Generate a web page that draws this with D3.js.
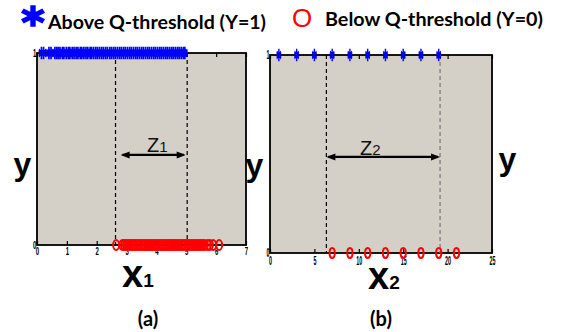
<!DOCTYPE html>
<html>
<head>
<meta charset="utf-8">
<script src="https://cdn.jsdelivr.net/npm/d3@7"></script>
<style>
  body { margin: 0; background: #fff; }
  svg { display: block; }
</style>
</head>
<body>
<div id="holder"></div>
<script>
const w = 561;
const h = 332;

// DATA
// panel (a): x1 values
const blueA = [0.15, 0.22, 0.4, 0.47, 0.6, 0.66, 0.71, 0.77, 0.85, 0.9, 0.98, 1.05, 1.1, 1.18, 1.24, 1.31,
  1.37, 1.45, 1.5, 1.57, 1.64, 1.7, 1.78, 1.83, 1.9, 1.97, 2.03, 2.1, 2.17, 2.23, 2.3, 2.36, 2.44, 2.5,
  2.57, 2.63, 2.7, 2.77, 2.83, 2.9, 2.96, 3.03, 3.1, 3.16, 3.23, 3.3, 3.36, 3.43, 3.5, 3.56, 3.63, 3.7,
  3.76, 3.83, 3.9, 3.96, 4.03, 4.1, 4.16, 4.23, 4.3, 4.36, 4.43, 4.5, 4.56, 4.63, 4.7, 4.76, 4.83, 4.9, 4.95];
const redA = [2.65, 2.86, 2.92, 2.98, 3.05, 3.11, 3.18, 3.24, 3.3, 3.37, 3.43, 3.5, 3.56, 3.62, 3.69,
  3.75, 3.82, 3.88, 3.95, 4.01, 4.07, 4.14, 4.2, 4.27, 4.33, 4.4, 4.46, 4.52, 4.59, 4.65, 4.72, 4.78,
  4.85, 4.91, 4.97, 5.04, 5.1, 5.17, 5.23, 5.3, 5.36, 5.42, 5.49, 5.55, 5.62, 5.72, 5.79, 5.9, 6.1];
const zA = [2.63, 5.03];          // dashed boundaries
const arrowA = [2.8, 4.98];
const ticksA = [0, 1, 2, 3, 4, 5, 6, 7];

// panel (b): x2 values
const blueB = [1, 3, 5, 7, 9, 11, 13, 15, 17, 19];
const redB = [7, 9, 11, 13, 15, 17, 19, 21];
const zB = [6.35, 19.15];
const arrowB = [6.35, 19.15];
const ticksB = [0, 5, 10, 15, 20, 25];

const yTicks = [0, 1];

const bg = "#d4d0c8";
const blue = "#0000ff";
const red = "#ff0000";

// CREATE SVG
const svg = d3.select("#holder")
  .append("svg")
  .attr("width", w)
  .attr("height", h);

const star = d3.symbol().type(d3.symbolAsterisk).size(75);

function panel(opt) {
  const x = d3.scaleLinear().domain(opt.xDomain).range(opt.xRange);
  const y = d3.scaleLinear().domain([0, 1]).range(opt.yRange);
  const g = svg.append("g");

  // background + frame
  g.append("rect")
    .attr("x", x.range()[0]).attr("y", y.range()[1])
    .attr("width", x.range()[1] - x.range()[0])
    .attr("height", y.range()[0] - y.range()[1])
    .attr("fill", bg)
    .attr("stroke", "#000")
    .attr("stroke-width", 1.8);

  // dashed lines
  g.selectAll(".zline")
    .data(opt.z)
    .enter()
    .append("line")
    .attr("x1", d => x(d)).attr("x2", d => x(d))
    .attr("y1", y(1)).attr("y2", y(0))
    .attr("stroke", (d, i) => opt.zColors[i])
    .attr("stroke-width", 1.2)
    .attr("stroke-dasharray", "4,3");

  // bottom axis
  const bottom = g.append("g")
    .attr("transform", `translate(0,${y(0)})`)
    .call(d3.axisBottom(x).tickValues(opt.ticks).tickSizeInner(-4).tickSizeOuter(0)
      .tickPadding(opt.labelPad).tickFormat(d3.format("d")));
  bottom.select(".domain").remove();
  bottom.selectAll("line").attr("stroke-width", 1.2);
  bottom.selectAll("text")
    .style("font-family", "Liberation Sans, Arial, sans-serif")
    .style("font-size", opt.labelSize + "px")
    .style("font-weight", "bold")
    .attr("transform", `scale(${opt.labelScale},1)`);

  // top axis (ticks only)
  const top = g.append("g")
    .attr("transform", `translate(0,${y(1)})`)
    .call(d3.axisTop(x).tickValues(opt.ticks).tickSizeInner(-4).tickSizeOuter(0).tickFormat(""));
  top.select(".domain").remove();
  top.selectAll("line").attr("stroke-width", 1.2);

  // left labels 0 / 1
  const left = g.append("g")
    .attr("transform", `translate(${x.range()[0]},0)`)
    .call(d3.axisLeft(y).tickValues(yTicks).tickSize(0).tickPadding(1).tickFormat(d3.format("d")));
  left.select(".domain").remove();
  left.selectAll("text")
    .style("font-family", "Liberation Sans, Arial, sans-serif")
    .style("font-size", opt.labelSize + "px")
    .style("font-weight", "bold")
    .attr("transform", `scale(${opt.labelScale},1)`);

  // blue stars (Y=1)
  g.selectAll(".star")
    .data(opt.blue)
    .enter()
    .append("path")
    .attr("d", star)
    .attr("transform", d => `translate(${x(d)},${y(1)}) scale(${opt.starScale},1.2)`)
    .attr("fill", "none")
    .attr("stroke", blue)
    .attr("stroke-width", 2.8);

  // red circles (Y=0)
  g.selectAll(".circ")
    .data(opt.red)
    .enter()
    .append("ellipse")
    .attr("cx", d => x(d))
    .attr("cy", y(0))
    .attr("rx", opt.rx)
    .attr("ry", 5)
    .attr("fill", "none")
    .attr("stroke", red)
    .attr("stroke-width", 2);

  // double arrow
  const ay = y(opt.arrowY);
  g.append("line")
    .attr("x1", x(opt.arrow[0]) + 2).attr("x2", x(opt.arrow[1]) - 2)
    .attr("y1", ay).attr("y2", ay)
    .attr("stroke", "#000").attr("stroke-width", 2.2);
  g.selectAll(".head")
    .data(opt.arrow)
    .enter()
    .append("path")
    .attr("d", (d, i) => {
      const px = x(d), s = i === 0 ? 1 : -1;
      return `M${px},${ay} L${px + s * 9},${ay - 3.5} L${px + s * 9},${ay + 3.5} Z`;
    })
    .attr("fill", "#000");

  // Z label
  const zt = g.append("text")
    .attr("x", opt.zLabel[0]).attr("y", opt.zLabel[1])
    .style("font-family", "Liberation Sans, Arial, sans-serif")
    .style("font-size", "20px")
    .attr("fill", "#111");
  zt.append("tspan").text("Z");
  zt.append("tspan").style("font-size", "15px").text(opt.sub);

  // x label
  const xt = g.append("text")
    .attr("x", opt.xLabel[0]).attr("y", opt.xLabel[1])
    .style("font-family", "Liberation Sans, Arial, sans-serif")
    .style("font-weight", "bold")
    .attr("fill", "#000");
  xt.append("tspan").style("font-size", "38px").text("x");
  xt.append("tspan").style("font-size", "19px").text(opt.sub);

  // panel caption
  g.append("text")
    .attr("x", opt.caption[0]).attr("y", opt.caption[1])
    .attr("text-anchor", "middle")
    .style("font-family", "Lato, Liberation Sans, sans-serif")
    .style("font-size", "20px")
    .style("font-weight", "bold")
    .text(opt.captionText);
}

panel({
  xDomain: [0, 7], xRange: [37, 246], yRange: [245, 53],
  ticks: ticksA, labelPad: 3, labelSize: 10, labelScale: 0.6,
  blue: blueA, red: redA, z: zA, zColors: ["#000", "#000"],
  starScale: 0.6, rx: 3,
  arrow: arrowA, arrowY: 0.469, zLabel: [147, 152], sub: "1",
  xLabel: [122, 287], caption: [148, 326], captionText: "(a)"
});

panel({
  xDomain: [0, 25], xRange: [270, 492], yRange: [253, 55],
  ticks: ticksB, labelPad: 3, labelSize: 12, labelScale: 0.45,
  blue: blueB, red: redB, z: zB, zColors: ["#000", "#777"],
  starScale: 0.5, rx: 2.6,
  arrow: arrowB, arrowY: 0.485, zLabel: [360, 155], sub: "2",
  xLabel: [368, 289], caption: [381, 326], captionText: "(b)"
});

// big y labels
const yLabels = [[22.5, 175], [254.5, 176], [507.5, 170]];
svg.selectAll(".ylab")
  .data(yLabels)
  .enter()
  .append("text")
  .attr("x", d => d[0]).attr("y", d => d[1])
  .attr("text-anchor", "middle")
  .style("font-family", "Liberation Sans, Arial, sans-serif")
  .style("font-size", "32px")
  .style("font-weight", "bold")
  .text("y");

// legend
svg.append("path")
  .attr("d", d3.symbol().type(d3.symbolAsterisk).size(300))
  .attr("transform", "translate(33,16) scale(1.2,1.05)")
  .attr("fill", "none")
  .attr("stroke", blue)
  .attr("stroke-width", 4.5);
svg.append("text")
  .attr("x", 48).attr("y", 29)
  .attr("textLength", 218).attr("lengthAdjust", "spacingAndGlyphs")
  .style("font-family", "Lato, Liberation Sans, sans-serif")
  .style("font-size", "19px")
  .style("font-weight", "bold")
  .text("Above Q-threshold (Y=1)");

svg.append("text")
  .attr("x", 292).attr("y", 27)
  .style("font-family", "Liberation Sans, Arial, sans-serif")
  .style("font-size", "26px")
  .attr("fill", red)
  .text("O");
svg.append("text")
  .attr("x", 325).attr("y", 26)
  .attr("textLength", 218).attr("lengthAdjust", "spacingAndGlyphs")
  .style("font-family", "Lato, Liberation Sans, sans-serif")
  .style("font-size", "19px")
  .style("font-weight", "bold")
  .text("Below Q-threshold (Y=0)");
</script>
</body>
</html>
